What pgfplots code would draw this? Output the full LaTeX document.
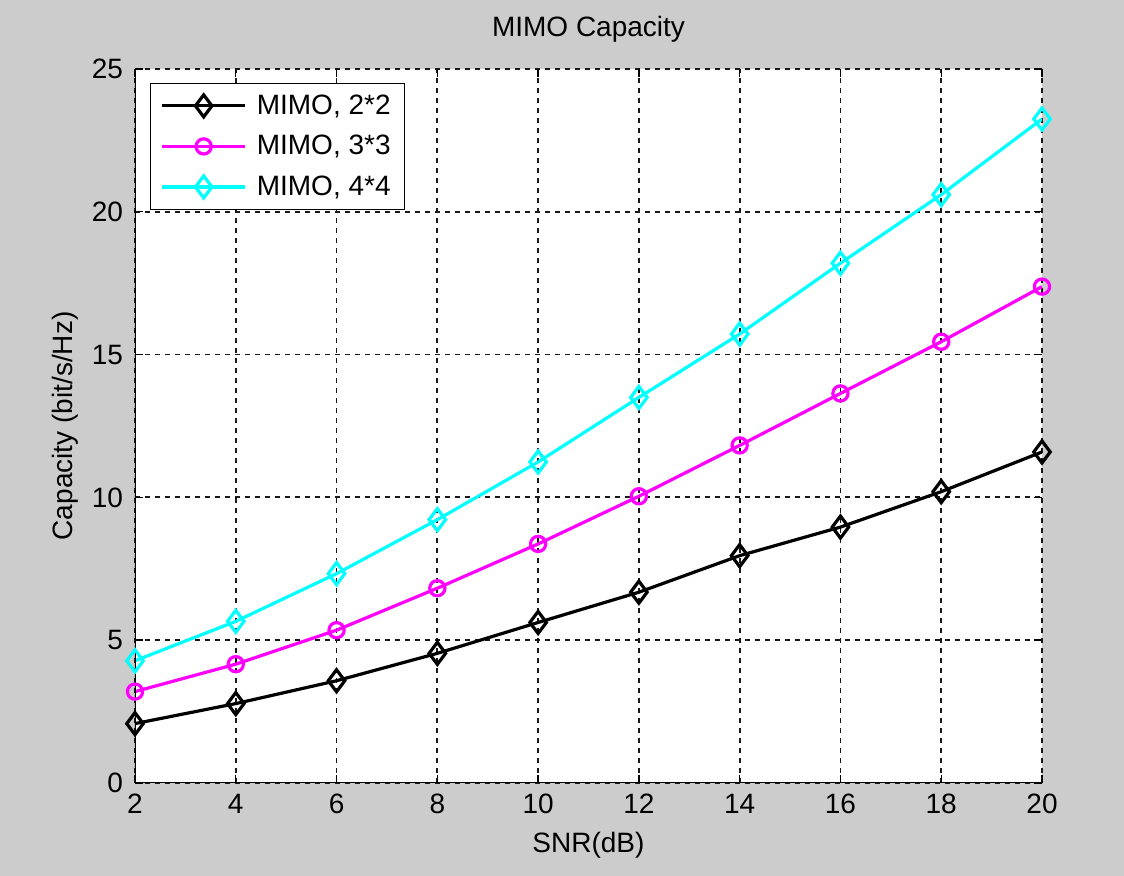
\documentclass[border=0pt]{standalone}
\usepackage{fontspec}
\setmainfont{Liberation Sans}
\usepackage{pgfplots}
\pgfplotsset{compat=1.18}
\definecolor{figbg}{RGB}{204,204,204}
\definecolor{mcyan}{RGB}{0,255,255}
\definecolor{mmag}{RGB}{255,0,255}

\begin{document}
\begin{tikzpicture}[font=\fontsize{14}{16}\selectfont]
% grey figure background (1px = 0.5pt)
\fill[figbg] (-67.5pt,-46.5pt) rectangle (494.5pt,391.5pt);
\begin{axis}[
  scale only axis, width=453.5pt, height=357pt,
  at={(0,0)}, anchor=south west,
  xmin=2, xmax=20, ymin=0, ymax=25,
  xtick={2,4,...,20}, ytick={0,5,...,25},
  tick align=inside, major tick length=4pt,
  tick style={black, line width=0.7pt},
  axis background/.style={fill=white},
  axis line style={draw=none},
  grid=major,
  major grid style={black!90, line width=0.9pt, dash pattern=on 2.5pt off 2.5pt},
  /pgf/number format/assume math mode=true,
  xticklabel style={yshift=-2pt},
  yticklabel style={xshift=-2.5pt},
  title={MIMO Capacity},
  title style={at={(axis description cs:0.5,1)}, anchor=base, yshift=10pt},
  xlabel={SNR(dB)},
  xlabel style={at={(axis description cs:0.5,0)}, anchor=base, yshift=-35pt},
  ylabel={Capacity (bit/s/Hz)},
  ylabel style={at={(axis description cs:0,0.5)}, anchor=base, yshift=31pt},
  legend style={at={(axis description cs:0,1)}, anchor=north west,
    xshift=7.5pt, yshift=-7pt, draw=black, line width=0.6pt, fill=white,
    inner xsep=5pt, inner ysep=3.5pt, row sep=5pt, column sep=3pt,
    cells={anchor=west}},
  legend image code/.code={
    \draw[mark repeat=2, mark phase=2] plot coordinates {(0pt,0pt) (20.75pt,0pt) (41.5pt,0pt)};},
  every axis plot/.append style={line width=1.6pt},
]
\addplot[black, mark=diamond, mark size=5.5pt, mark options={line width=1.6pt}] coordinates {
  (2,2.08) (4,2.78) (6,3.58) (8,4.54) (10,5.62) (12,6.68) (14,7.96) (16,8.96) (18,10.2) (20,11.59)};
\addplot[mmag, mark=o, mark size=3.8pt, mark options={line width=1.6pt}] coordinates {
  (2,3.2) (4,4.16) (6,5.35) (8,6.82) (10,8.37) (12,10.04) (14,11.82) (16,13.64) (18,15.45) (20,17.38)};
\addplot[mcyan, mark=diamond, mark size=5.5pt, mark options={line width=1.6pt}] coordinates {
  (2,4.28) (4,5.66) (6,7.33) (8,9.22) (10,11.24) (12,13.5) (14,15.72) (16,18.2) (18,20.6) (20,23.25)};
\legend{{MIMO, 2*2},{MIMO, 3*3},{MIMO, 4*4}}
\draw[black, line width=0.8pt] (rel axis cs:0,1) -- (rel axis cs:0,0) -- (rel axis cs:1,0);
\end{axis}
\end{tikzpicture}
\end{document}
